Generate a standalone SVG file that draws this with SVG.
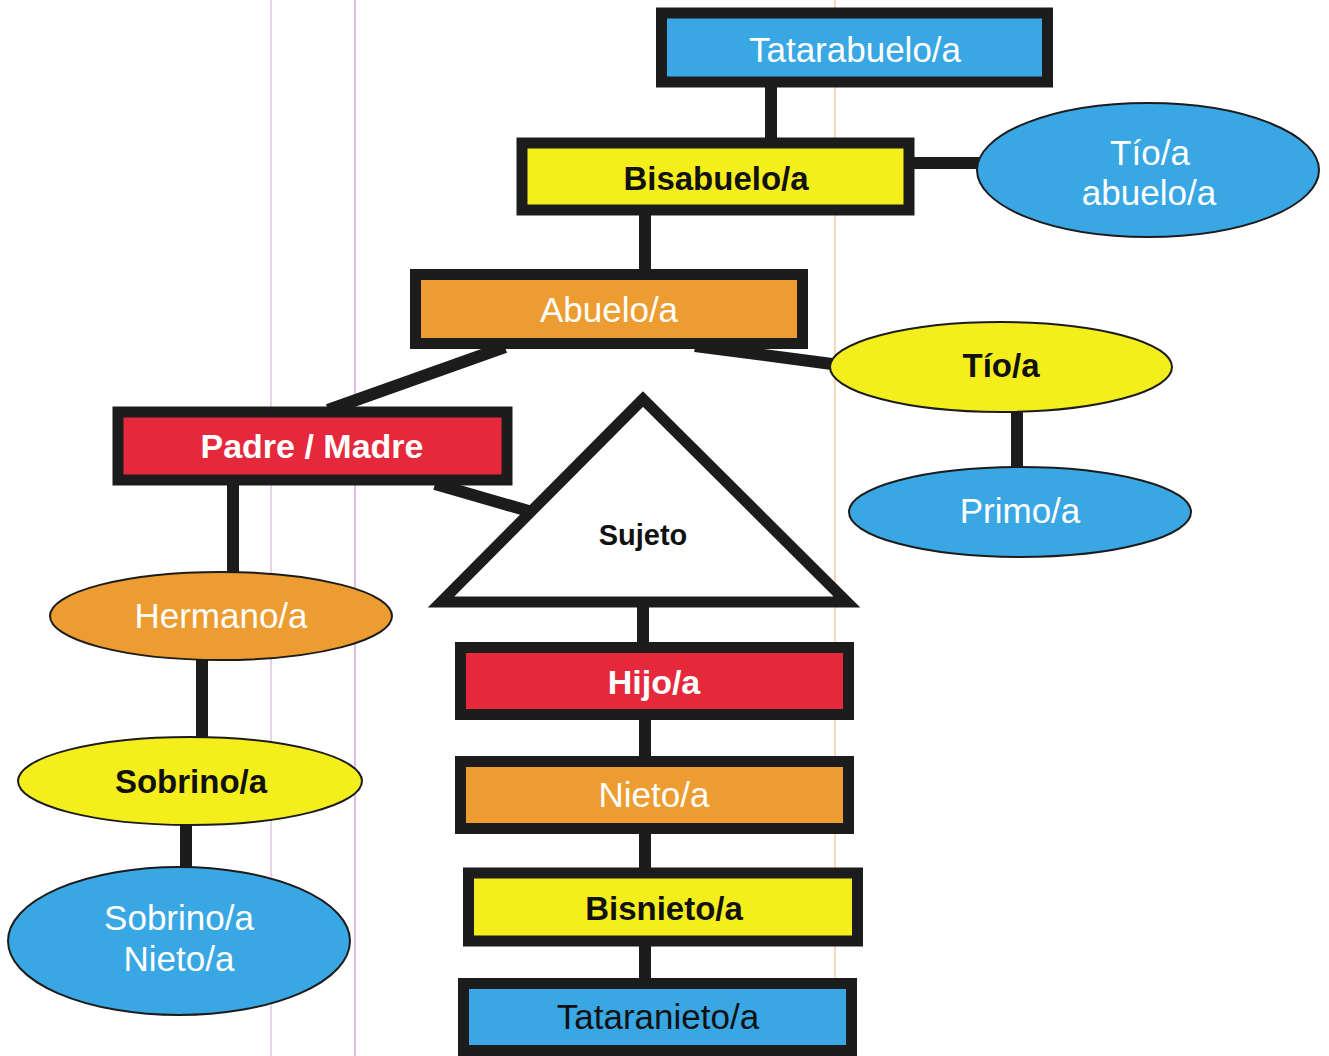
<svg xmlns="http://www.w3.org/2000/svg" width="1329" height="1056" viewBox="0 0 1329 1056">
<style>
.box{stroke:#1c1c1c;stroke-width:11}
.ell{stroke:#1c1c1c;stroke-width:2}
.blue{fill:#39a7e3}
.yellow{fill:#f4ee1c}
.orange{fill:#ec9c30}
.red{fill:#e6283c}
.conn line{stroke:#1c1c1c;stroke-width:12}
text{font-family:"Liberation Sans",Arial,sans-serif;text-anchor:middle}
.w{fill:#ffffff;font-size:35px}
.wb{fill:#ffffff;font-size:34px;font-weight:bold}
.kb{fill:#111111;font-size:33px;font-weight:bold}
.k{fill:#111111;font-size:35px}
</style>
<rect x="0" y="0" width="1329" height="1056" fill="#ffffff"/>
<g id="margins">
<line x1="271" y1="0" x2="271" y2="1056" stroke="#dcc4e0" stroke-width="1.5"/>
<line x1="355" y1="0" x2="355" y2="1056" stroke="#d6a8d8" stroke-width="1.5"/>
<line x1="835" y1="0" x2="835" y2="1056" stroke="#f0cc98" stroke-width="1.5"/>
</g>
<g id="connectors" class="conn">
<line x1="771" y1="86" x2="771" y2="140"/>
<line x1="912" y1="163" x2="980" y2="163"/>
<line x1="645" y1="214" x2="645" y2="272"/>
<line x1="505" y1="347" x2="328" y2="410"/>
<line x1="695" y1="346" x2="832" y2="364"/>
<line x1="435" y1="484" x2="532" y2="512"/>
<line x1="233" y1="484" x2="233" y2="576"/>
<line x1="202" y1="659" x2="202" y2="740"/>
<line x1="186" y1="825" x2="186" y2="870"/>
<line x1="1017" y1="411" x2="1017" y2="470"/>
<line x1="643" y1="605" x2="643" y2="644"/>
<line x1="645" y1="719" x2="645" y2="758"/>
<line x1="645" y1="833" x2="645" y2="870"/>
<line x1="645" y1="946" x2="645" y2="982"/>
</g>
<g id="tatarabuelo">
<rect class="box blue" x="661.5" y="13" width="386" height="69"/>
<text class="w" x="855" y="62">Tatarabuelo/a</text>
</g>
<g id="bisabuelo">
<rect class="box yellow" x="522" y="143" width="387" height="67"/>
<text class="kb" x="716" y="190">Bisabuelo/a</text>
</g>
<g id="tio-abuelo">
<ellipse class="ell blue" cx="1148" cy="170" rx="171" ry="67"/>
<text class="w" x="1150" y="165">Tío/a</text>
<text class="w" x="1149" y="205">abuelo/a</text>
</g>
<g id="abuelo">
<rect class="box orange" x="415.5" y="274.5" width="387" height="69"/>
<text class="w" x="609" y="322">Abuelo/a</text>
</g>
<g id="tio">
<ellipse class="ell yellow" cx="1001" cy="367" rx="171" ry="45"/>
<text class="kb" x="1001" y="377">Tío/a</text>
</g>
<g id="primo">
<ellipse class="ell blue" cx="1020" cy="512" rx="171" ry="45"/>
<text class="w" x="1020" y="523">Primo/a</text>
</g>
<g id="padre-madre">
<rect class="box red" x="118" y="412" width="389" height="68"/>
<text class="wb" x="312" y="458">Padre / Madre</text>
</g>
<g id="sujeto">
<polygon points="643,399 441,602 847,602" fill="#ffffff" stroke="#1c1c1c" stroke-width="11" stroke-linejoin="miter"/>
<text x="643" y="545" fill="#111111" font-size="29" font-weight="bold">Sujeto</text>
</g>
<g id="hermano">
<ellipse class="ell orange" cx="221" cy="616" rx="171" ry="44"/>
<text class="w" x="221" y="628">Hermano/a</text>
</g>
<g id="sobrino">
<ellipse class="ell yellow" cx="190" cy="781" rx="172" ry="44"/>
<text class="kb" x="191" y="793">Sobrino/a</text>
</g>
<g id="sobrino-nieto">
<ellipse class="ell blue" cx="179" cy="941" rx="171" ry="74"/>
<text class="w" x="179" y="930">Sobrino/a</text>
<text class="w" x="179" y="971">Nieto/a</text>
</g>
<g id="hijo">
<rect class="box red" x="460.5" y="647.5" width="388" height="67"/>
<text class="wb" x="654" y="694">Hijo/a</text>
</g>
<g id="nieto">
<rect class="box orange" x="460.5" y="761.5" width="388" height="67"/>
<text class="w" x="654" y="807">Nieto/a</text>
</g>
<g id="bisnieto">
<rect class="box yellow" x="468.5" y="873" width="389" height="68"/>
<text class="kb" x="664" y="920">Bisnieto/a</text>
</g>
<g id="tataranieto">
<rect class="box blue" x="463.5" y="983.5" width="388" height="67"/>
<text class="k" x="658" y="1029">Tataranieto/a</text>
</g>
</svg>
